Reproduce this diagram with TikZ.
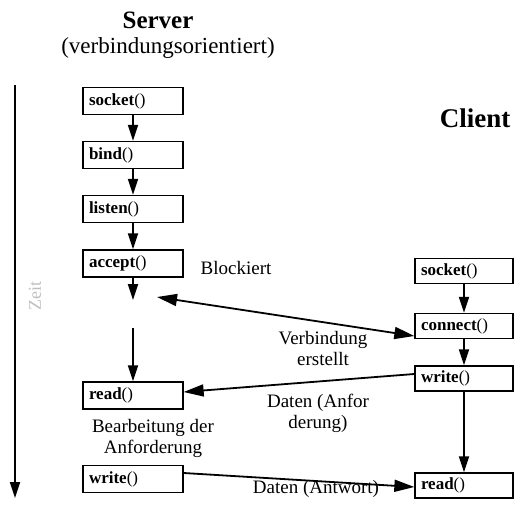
\documentclass[tikz,border=0pt]{standalone}
\usepackage{fontspec}
\setmainfont{Liberation Serif}
\usetikzlibrary{arrows.meta,calc}
\begin{document}
\begin{tikzpicture}[x=1pt,y=-1pt,
  box/.style={draw, line width=1.3pt, minimum width=100pt, minimum height=27pt, text width=88pt, align=left, inner xsep=6pt, inner ysep=0pt, font=\fontsize{17}{17}\selectfont},
  cbox/.style={box, minimum width=98pt, minimum height=25pt, text width=86pt},
  flow/.style={line width=1.8pt, -{Triangle[length=16pt,width=10pt]}},
  msg/.style={line width=1.8pt, -{Triangle[length=20pt,width=12pt]}},
  lbl/.style={font=\fontsize{19}{21}\selectfont, align=center, inner sep=0pt}
]
\useasboundingbox (0,0) rectangle (514,506);
% titles
\node[font=\fontsize{25}{25}\selectfont\bfseries, anchor=base] (srv) at (158,28) {Server};
\node[font=\fontsize{23}{23}\selectfont, anchor=base] (srvsub) at (168,53) {(verbindungsorientiert)};
\node[font=\fontsize{27}{27}\selectfont\bfseries, anchor=base] (cli) at (475,127) {Client};
% time axis
\coordinate (t0) at (15,85);
\coordinate (t1) at (15,498);
\draw[flow] (t0) -- (t1);
\node[rotate=90, text=black!25, font=\fontsize{18}{18}\selectfont, inner sep=0pt] (zeit) at (35,296) {Zeit};
% server boxes
\node[box] (ssock) at (133,101) {\textbf{socket}()};
\node[box] (sbind) at (133,155) {\textbf{bind}()};
\node[box] (slist) at (133,209) {\textbf{listen}()};
\node[box] (sacc) at (133,263.5) {\textbf{accept}()};
\node[box] (sread) at (133,395.5) {\textbf{read}()};
\node[box] (swrite) at (133,479) {\textbf{write}()};
\draw[flow] (ssock) -- (sbind);
\draw[flow] (sbind) -- (slist);
\draw[flow] (slist) -- (sacc);
\coordinate (accend) at (133,300);
\coordinate (blkend) at (133,328);
\coordinate (conn0) at (157,297);
\draw[flow] (sacc) -- (accend);
\draw[flow] (blkend) -- (sread);
% client boxes
\node[cbox] (csock) at (464,271) {\textbf{socket}()};
\node[cbox] (cconn) at (464,326) {\textbf{connect}()};
\node[cbox] (cwrite) at (464,378.5) {\textbf{write}()};
\node[cbox] (cread) at (464,485.5) {\textbf{read}()};
\draw[flow] (csock) -- (cconn);
\draw[flow] (cconn) -- (cwrite);
\draw[flow] (cwrite) -- (cread);
% messages
\draw[msg, {Triangle[length=20pt,width=12pt]}-{Triangle[length=20pt,width=12pt]}] (conn0) -- ([yshift=-10pt]cconn.west);
\draw[msg] ([yshift=4.5pt]cwrite.west) -- ([yshift=3.5pt]sread.east);
\draw[msg] ([yshift=6pt]swrite.east) -- ([yshift=-1.5pt]cread.west);
% labels
\node[lbl] (blk) at (236,268) {Blockiert};
\node[lbl] (verb) at (323,348) {Verbindung\\erstellt};
\node[lbl] (dreq) at (318,413) {Daten (Anfor\\derung)};
\node[lbl] (bearb) at (153,438) {Bearbeitung der\\Anforderung};
\node[lbl] (dans) at (316,489) {Daten (Antwort)};
\end{tikzpicture}
\end{document}
